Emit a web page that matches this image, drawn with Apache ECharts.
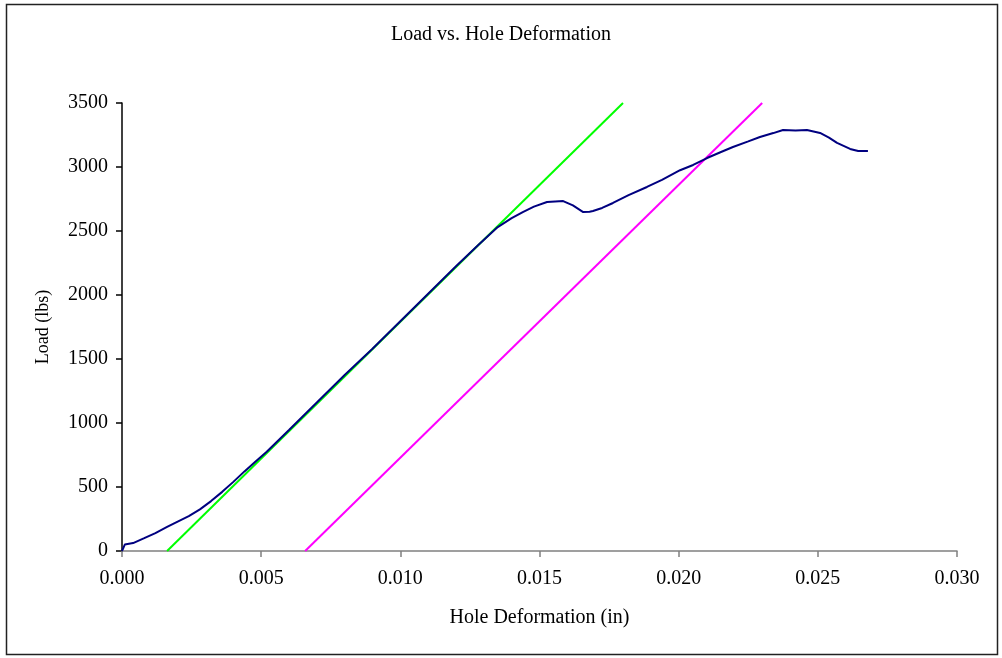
<!DOCTYPE html>
<html>
<head>
<meta charset="utf-8">
<title>Load vs. Hole Deformation</title>
<script src="https://cdn.jsdelivr.net/npm/echarts@6/dist/echarts.min.js"></script>
<style>
  html, body { margin: 0; padding: 0; background: #fff; }
  #chart { width: 1002px; height: 658px; }
</style>
</head>
<body>
<div id="chart"></div>
<script>
// Measured load vs. hole deformation [in, lbs]
const testCurve = [
  [0, 0], [0.0001, 50], [0.0004, 62], [0.0008, 100], [0.0012, 140],
  [0.00162, 188], [0.0020, 230], [0.0024, 272], [0.0028, 325], [0.0032, 390],
  [0.0036, 462], [0.0040, 540], [0.0044, 622], [0.0048, 700], [0.0052, 775],
  [0.0060, 945], [0.0070, 1160], [0.0080, 1375], [0.0090, 1580], [0.0100, 1795],
  [0.0110, 2010], [0.0120, 2225], [0.0128, 2390], [0.0135, 2531], [0.0140, 2600],
  [0.0144, 2648], [0.0148, 2690], [0.01527, 2727], [0.01585, 2734], [0.0162, 2700],
  [0.01657, 2648], [0.0168, 2650], [0.01692, 2656], [0.01725, 2680], [0.01764, 2719],
  [0.0182, 2780], [0.01886, 2844], [0.0194, 2900], [0.02005, 2975], [0.02052, 3016],
  [0.02102, 3070], [0.0215, 3115], [0.02195, 3156], [0.0225, 3200], [0.02292, 3234],
  [0.0234, 3265], [0.02375, 3289], [0.0242, 3285], [0.02461, 3289], [0.02508, 3266],
  [0.0254, 3230], [0.02569, 3188], [0.02616, 3141], [0.02645, 3125], [0.0268, 3125]
];
// Elastic stiffness line fitted to the linear region
const elasticLine = [[0.00162, 0], [0.0180, 3500]];
// Same stiffness shifted by the offset
const offsetLine = [[0.00658, 0], [0.0230, 3500]];

const xTicks = { min: 0, max: 0.030, step: 0.005 };
const yTicks = { min: 0, max: 3500, step: 500 };

const serif = '"Liberation Serif", "Times New Roman", serif';

const chart = echarts.init(document.getElementById('chart'), null, { renderer: 'canvas' });
chart.setOption({
  backgroundColor: '#ffffff',
  animation: false,
  title: {
    text: 'Load vs. Hole Deformation',
    left: 'center',
    top: 20,
    textStyle: { fontFamily: serif, fontSize: 20, fontWeight: 'normal', color: '#000' }
  },
  graphic: [{
    type: 'rect',
    shape: { x: 6.5, y: 4.5, width: 991, height: 650 },
    style: { fill: 'none', stroke: '#222', lineWidth: 1.5 },
    silent: true
  }],
  grid: { left: 122, right: 45, top: 103, bottom: 107, containLabel: false },
  xAxis: {
    type: 'value',
    min: xTicks.min, max: xTicks.max, interval: xTicks.step,
    name: 'Hole Deformation (in)',
    nameLocation: 'middle',
    nameGap: 57,
    nameTextStyle: { fontFamily: serif, fontSize: 20, color: '#000' },
    axisLine: { show: true, lineStyle: { color: '#808080', width: 1.5 } },
    axisTick: { show: true, length: 6, lineStyle: { color: '#808080', width: 1.5 } },
    axisLabel: {
      fontFamily: serif, fontSize: 20, color: '#000', margin: 18,
      formatter: v => v.toFixed(3)
    },
    splitLine: { show: false }
  },
  yAxis: {
    type: 'value',
    min: yTicks.min, max: yTicks.max, interval: yTicks.step,
    name: 'Load (lbs)',
    nameLocation: 'middle',
    nameRotate: 90,
    nameGap: 70,
    nameTextStyle: { fontFamily: serif, fontSize: 18, color: '#000' },
    axisLine: { show: true, lineStyle: { color: '#000', width: 1.5 } },
    axisTick: { show: true, length: 6, lineStyle: { color: '#000', width: 1.5 } },
    axisLabel: {
      fontFamily: serif, fontSize: 20, color: '#000', margin: 14,
      formatter: v => String(Math.round(v))
    },
    splitLine: { show: false }
  },
  series: [
    {
      name: 'Test',
      type: 'line',
      data: testCurve,
      showSymbol: false,
      lineStyle: { color: '#000080', width: 2 },
      z: 3
    },
    {
      name: 'Elastic',
      type: 'line',
      data: elasticLine,
      showSymbol: false,
      lineStyle: { color: '#00ff00', width: 2 },
      z: 2
    },
    {
      name: 'Offset',
      type: 'line',
      data: offsetLine,
      showSymbol: false,
      lineStyle: { color: '#ff00ff', width: 2 },
      z: 2
    }
  ]
});
</script>
</body>
</html>
